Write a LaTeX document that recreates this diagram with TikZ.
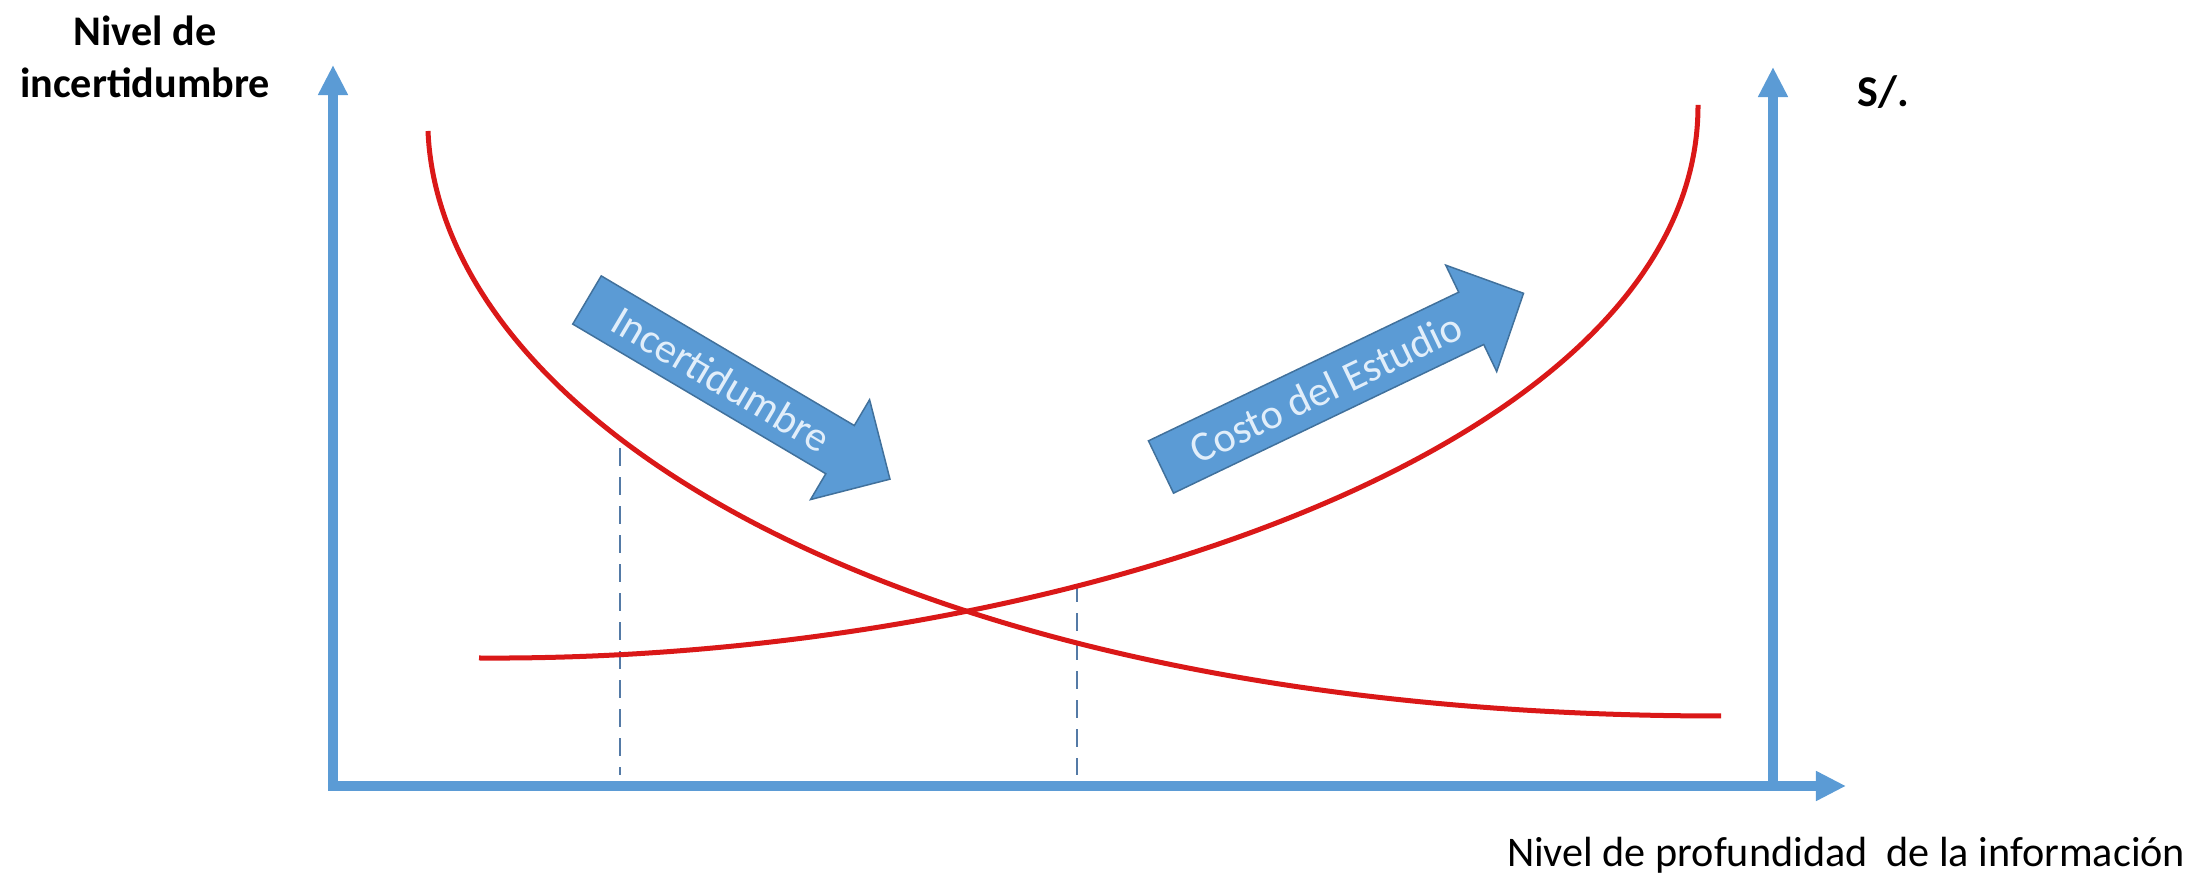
\documentclass[tikz,border=0pt]{standalone}
\usepackage{fontspec}
\setmainfont{Carlito}
\usepackage{xcolor}
\usepackage{tikz}
\definecolor{axisblue}{RGB}{91,155,213}
\definecolor{arrowedge}{RGB}{65,113,156}
\definecolor{curvered}{RGB}{218,24,24}
\definecolor{dashblue}{RGB}{84,122,166}
\definecolor{paletext}{RGB}{225,238,250}
\usetikzlibrary{arrows.meta,positioning,calc}

\begin{document}
\begin{tikzpicture}[
    x=0.01cm, y=-0.01cm,
    axisline/.style={draw=axisblue, line width=0.1cm, -{Triangle[width=0.28cm,length=0.3cm]}},
    curve/.style={draw=curvered, line width=0.05cm},
    guide/.style={draw=dashblue, line width=0.025cm, dash pattern=on 0.18cm off 0.11cm},
    blockarrow/.style={fill=axisblue, draw=arrowedge, line width=0.015cm},
    boldlabel/.style={font=\fontsize{12}{14.8}\selectfont\bfseries, inner sep=0pt, align=center},
    plainlabel/.style={font=\fontsize{12}{14.4}\selectfont, inner sep=0pt},
    arrowtext/.style={font=\fontsize{12}{14.4}\selectfont, text=paletext, inner sep=0pt}
]
\useasboundingbox (0,0) rectangle (2196,880);

% Axes
\coordinate (origin) at (333,786);
\coordinate (ytip) at (333,65);
\coordinate (xtip) at (1846,786);
\coordinate (rbase) at (1773,786);
\coordinate (rtip) at (1773,67);
\draw[axisline] ($(origin)+(0,5)$) -- (ytip);
\draw[axisline] (rbase) -- (rtip);
\draw[axisline] ($(origin)+(-5,0)$) -- (xtip);

% Axis labels
\node[boldlabel] (ylabel) at (145,57) {Nivel de\\incertidumbre};
\node[boldlabel, font=\fontsize{12.5}{15}\selectfont\bfseries, anchor=base west] (sol) at (1857,107) {S/.};
\node[plainlabel, anchor=base east] (xlabel) at (2186,867) {Nivel de profundidad\ \ de la información};

% Guide lines
\coordinate (lowtop) at (620,448);
\coordinate (lowbot) at (620,775);
\coordinate (hightop) at (1077,584);
\coordinate (highbot) at (1077,775);
\draw[guide] (lowtop) -- (lowbot);
\draw[guide] (hightop) -- (highbot);

% Curves
\coordinate (unc0) at (428,131);
\coordinate (unc1) at (1721,716);
\coordinate (cost0) at (479,658);
\coordinate (cost1) at (1698,105);
\draw[curve] (unc0) .. controls (440,420) and (900,716) .. (unc1);
\draw[curve] (cost0) .. controls (1050,662) and (1699,450) .. (cost1);

% Trend arrows
\begin{scope}[shift={(587,300)}, rotate=-30.6]
  \path[blockarrow] (0,-28) -- (294,-28) -- (294,-58) -- (352,0) -- (294,58) -- (294,28) -- (0,28) -- cycle;
  \node[arrowtext, rotate=-30.6] (incert) at (156,0) {Incertidumbre};
\end{scope}
\begin{scope}[shift={(1161,467)}, rotate=25.6]
  \path[blockarrow] (0,-29) -- (344,-29) -- (344,-59) -- (402,0) -- (344,59) -- (344,29) -- (0,29) -- cycle;
  \node[arrowtext, rotate=25.6] (costo) at (183,0) {Costo del Estudio};
\end{scope}

\end{tikzpicture}
\end{document}
